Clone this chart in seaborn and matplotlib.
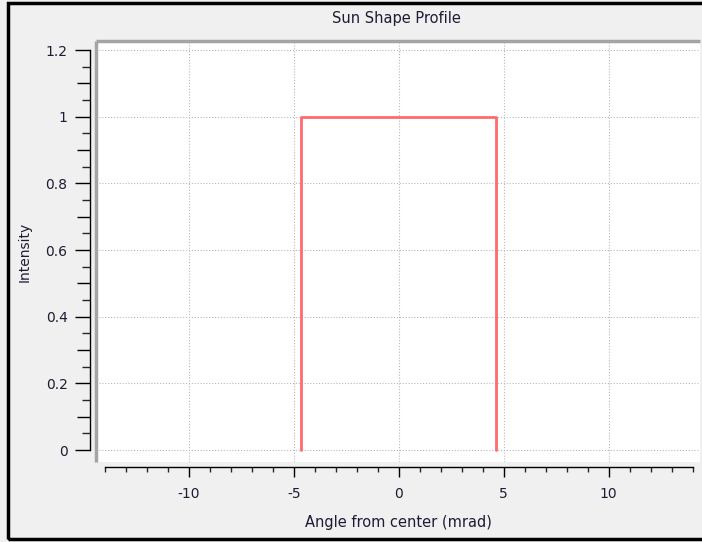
import numpy as np
import matplotlib
matplotlib.use("Agg")
import matplotlib.pyplot as plt
import seaborn as sns
from matplotlib.patches import Rectangle
from matplotlib.ticker import MultipleLocator, FixedLocator

# Sun shape profile (pillbox, half angle ~4.65 mrad)
angle = [-4.65, -4.65, 4.65, 4.65]
intensity = [0.0, 1.0, 1.0, 0.0]

x_major = [-10, -5, 0, 5, 10]
y_major = [0, 0.2, 0.4, 0.6, 0.8, 1, 1.2]
y_medium = [0.1, 0.3, 0.5, 0.7, 0.9, 1.1]
y_minor = [0.05, 0.15, 0.25, 0.35, 0.45, 0.55, 0.65, 0.75, 0.85, 0.95, 1.05, 1.15]
y_labels = ["0", "0.2", "0.4", "0.6", "0.8", "1", "1.2"]

sns.set_style("white")
plt.rcParams["font.family"] = ["DejaVu Sans"]
plt.rcParams["axes.unicode_minus"] = False
txt = "#1c1c34"

W, H = 702, 542
fig = plt.figure(figsize=(W / 100, H / 100), dpi=100)
fig.patch.set_facecolor("#f0f0f0")

# outer frame (right side runs off the picture)
fig.patches.append(Rectangle((8 / W, 3 / H), 710 / W, 536 / H, transform=fig.transFigure,
                             fill=False, edgecolor="black", linewidth=2.5))

left, right, top, bottom = 96, 700, 41, 462
pos = [left / W, 1 - bottom / H, (right - left) / W, (bottom - top) / H]
ax = fig.add_axes(pos)
ax.set_facecolor("white")

sns.lineplot(x=angle, y=intensity, ax=ax, sort=False, estimator=None,
             color="#ff6b6b", linewidth=2.0)

px_per_unit = 21.0
x0 = 398.7
ylim = ((450 - bottom) / 333.3, (450 - top) / 333.3)
ax.set_xlim((left - x0) / px_per_unit, (right - x0) / px_per_unit)
ax.set_ylim(*ylim)

ax.xaxis.set_major_locator(FixedLocator(x_major))
ax.xaxis.set_minor_locator(MultipleLocator(1))
ax.yaxis.set_major_locator(FixedLocator(y_major))
ax.yaxis.set_minor_locator(FixedLocator(y_minor))
ax.set_yticklabels(y_labels)
ax.grid(True, which="major", color="#b8b8b8", linestyle=(0, (1, 1.6)), linewidth=0.8)

for s in ["top", "right"]:
    ax.spines[s].set_visible(False)
ax.spines["left"].set_position(("outward", 4.5))
ax.spines["bottom"].set_position(("outward", 3.5))
ax.spines["left"].set_bounds(0, 1.2)
ax.spines["bottom"].set_bounds(-14, 14)
for s in ["left", "bottom"]:
    ax.spines[s].set_color("black")
    ax.spines[s].set_linewidth(1.0)

ax.tick_params(axis="x", which="major", direction="out", length=7.5, width=1.0,
               pad=7, labelsize=10, colors="black", labelcolor=txt, bottom=True)
ax.tick_params(axis="x", which="minor", direction="out", length=3.8, width=1.0, bottom=True)
ax.tick_params(axis="y", which="major", direction="out", length=11, width=1.0,
               pad=5, labelsize=10, colors="black", labelcolor=txt, left=True)
ax.tick_params(axis="y", which="minor", direction="out", length=6, width=1.0, left=True)

# medium ticks on the intensity scale
mid = fig.add_axes(pos, frameon=False)
mid.patch.set_visible(False)
mid.set_ylim(*ylim)
mid.set_xticks([])
mid.yaxis.set_major_locator(FixedLocator(y_medium))
mid.yaxis.set_minor_locator(FixedLocator([]))
mid.tick_params(axis="y", which="major", direction="out", length=9.5, width=1.0,
                labelleft=False, left=True, colors="black")
mid.spines["left"].set_position(("outward", 4.5))

# sunken canvas edge (top and left)
ax.plot([0, 1], [1, 1], transform=ax.transAxes, color="#a4a4a4", lw=2.5, clip_on=False,
        solid_capstyle="butt")
ax.plot([0, 0], [0, 1], transform=ax.transAxes, color="#a4a4a4", lw=2.5, clip_on=False,
        solid_capstyle="butt")

ax.set_xlabel("Angle from center (mrad)", fontsize=10.5, color=txt)
ax.set_ylabel("Intensity", fontsize=10, color=txt)
ax.yaxis.set_label_coords(-(left - 25) / (right - left), 0.5)
ax.yaxis.label.set_va("center")
ax.xaxis.set_label_coords(0.5, -(522 - bottom) / (bottom - top))
ax.xaxis.label.set_va("center")

fig.text(396 / W, 1 - 19 / H, "Sun Shape Profile", ha="center", va="center",
         fontsize=10.5, color=txt)

fig.savefig("out.png", dpi=100, facecolor=fig.get_facecolor())
